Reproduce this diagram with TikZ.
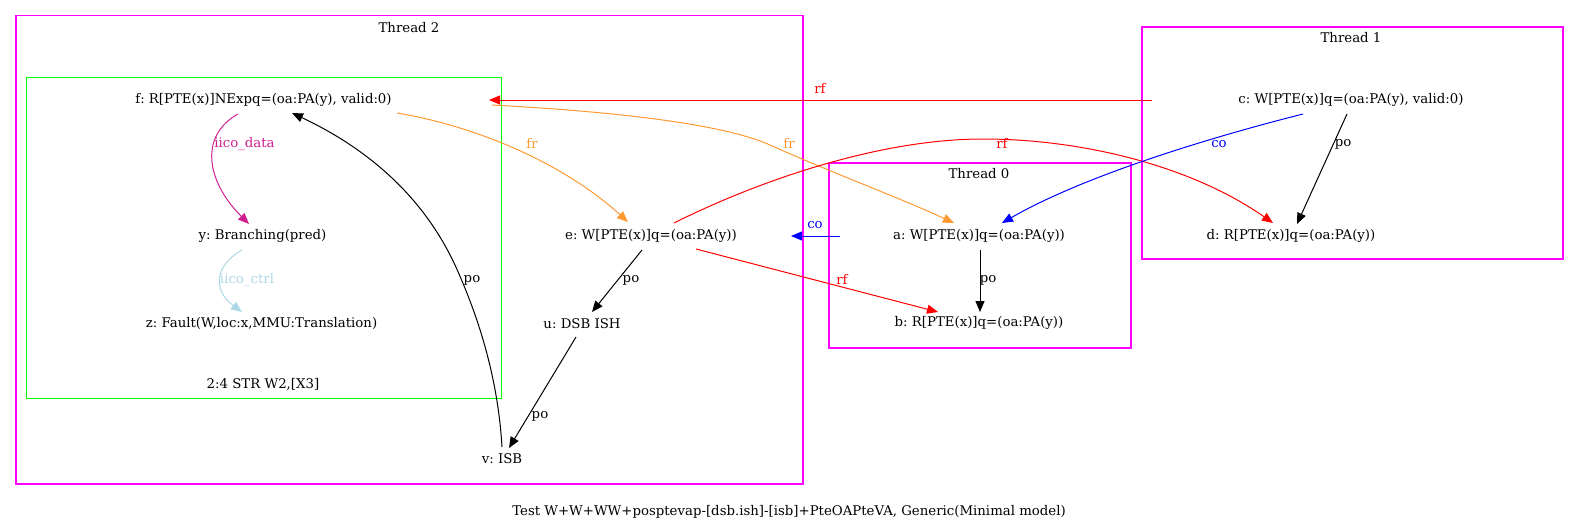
\documentclass[tikz,border=0pt]{standalone}
\usepackage{fontspec}
\setmainfont{DejaVu Serif}
\frenchspacing
\usetikzlibrary{arrows.meta,calc}
\definecolor{clmag}{RGB}{255,0,255}
\definecolor{clgreen}{RGB}{0,255,0}
\definecolor{frcol}{RGB}{255,153,51}
\definecolor{iicod}{RGB}{208,32,144}
\definecolor{iicoc}{RGB}{173,216,230}
\definecolor{rfcol}{RGB}{255,0,0}
\definecolor{cocol}{RGB}{0,0,255}
\begin{document}
\begin{tikzpicture}[x=1pt,y=-1pt,
  every node/.style={font=\fontsize{13.3}{15}\selectfont, inner sep=0pt},
  ev/.style={},
  edge/.style={line width=1pt, -{Triangle[length=11pt,width=9pt]}},
  poE/.style={edge, draw=black},
  rfE/.style={edge, draw=rfcol},
  coE/.style={edge, draw=cocol},
  frE/.style={edge, draw=frcol},
  idE/.style={edge, draw=iicod},
  icE/.style={edge, draw=iicoc},
  elab/.style={text=#1},
]
\useasboundingbox (0,0) rectangle (1579,525);
% clusters
\node[draw=clmag, line width=1.3pt, minimum width=787pt, minimum height=468.3pt] (T2) at (409.5,249.85) {};
\node[draw=clgreen, line width=1.3pt, minimum width=475.4pt, minimum height=321pt] (G) at (264,237.8) {};
\node[draw=clmag, line width=1.3pt, minimum width=302pt, minimum height=185pt] (T0) at (980,255.5) {};
\node[draw=clmag, line width=1.3pt, minimum width=421pt, minimum height=232pt] (T1) at (1352.5,143) {};
\node (T2l) at (409,28) {Thread 2};
\node (T0l) at (979,174) {Thread 0};
\node (T1l) at (1351,38) {Thread 1};
\node (Gl) at (263,384) {2:4 STR W2,[X3]};
% events
\node[ev] (f) at (263.5,100) {f: R[PTE(x)]NExpq=(oa:PA(y), valid:0)};
\node[ev] (y) at (262.5,236) {y: Branching(pred)};
\node[ev] (z) at (261.5,323) {z: Fault(W,loc:x,MMU:Translation)};
\node[ev] (e) at (651,236) {e: W[PTE(x)]q=(oa:PA(y))};
\node[ev] (u) at (582,324) {u: DSB ISH};
\node[ev] (v) at (502,459) {v: ISB};
\node[ev] (a) at (979,236) {a: W[PTE(x)]q=(oa:PA(y))};
\node[ev] (b) at (979,323) {b: R[PTE(x)]q=(oa:PA(y))};
\node[ev] (c) at (1351,100) {c: W[PTE(x)]q=(oa:PA(y), valid:0)};
\node[ev] (d) at (1291,236) {d: R[PTE(x)]q=(oa:PA(y))};
\node (cap) at (789,512) {Test W+W+WW+posptevap-[dsb.ish]-[isb]+PteOAPteVA, Generic(Minimal model)};
% edges
\draw[idE] ($(f)+(-25.5,14)$) .. controls (200,135) and (205,180) .. ($(y)+(-13.5,-12)$);
\node[elab=iicod] (l1) at (244.5,144) {iico\_data};
\draw[icE] ($(y)+(-20.5,14)$) .. controls (215,265) and (212,290) .. ($(z)+(-19.5,-11)$);
\node[elab=iicoc] (l2) at (247,280) {iico\_ctrl};
\draw[frE] ($(f)+(133.5,13)$) .. controls (470,125) and (560,160) .. ($(e)+(-23,-14)$);
\node[elab=frcol] (l3) at (532,143) {fr};
\draw[frE] ($(f)+(228.5,5)$) .. controls (640,113) and (730,127) .. (770,145) .. controls (830,172) and (900,198) .. ($(a)+(-25,-13)$);
\node[elab=frcol] (l4) at (789,143) {fr};
\draw[rfE] ($(c)+(-199,0)$) -- ($(f)+(225.5,0)$);
\node[elab=rfcol] (l5) at (820,88) {rf};
\draw[rfE] ($(e)+(23,-13)$) .. controls (760,180) and (880,139) .. (983,139) .. controls (1080,139) and (1190,165) .. ($(d)+(-18,-13)$);
\node[elab=rfcol] (l6) at (1002,143) {rf};
\draw[rfE] ($(e)+(45,13)$) -- ($(b)+(-41,-11)$);
\node[elab=rfcol] (l7) at (842,279) {rf};
\draw[coE] ($(a)+(-139,0)$) -- ($(e)+(140,0)$);
\node[elab=cocol] (l8) at (815,225) {co};
\draw[coE] ($(c)+(-48,14)$) .. controls (1200,140) and (1080,178) .. ($(a)+(23,-13)$);
\node[elab=cocol] (l9) at (1219,144) {co};
\draw[poE] ($(c)+(-4,14)$) -- ($(d)+(6,-12)$);
\node (l10) at (1343,144) {po};
\draw[poE] ($(a)+(1,14)$) -- ($(b)+(1,-11)$);
\node (l11) at (988,280) {po};
\draw[poE] ($(e)+(-9,14)$) -- ($(u)+(10,-12)$);
\node (l12) at (631,280) {po};
\draw[poE] ($(u)+(-6,13)$) -- ($(v)+(7,-11)$);
\node (l13) at (540,416) {po};
\draw[poE] ($(v)+(0,-12)$) .. controls (498,380) and (480,320) .. (455,265) .. controls (420,190) and (360,145) .. ($(f)+(28.5,13)$);
\node (l14) at (472,280) {po};
\end{tikzpicture}
\end{document}
